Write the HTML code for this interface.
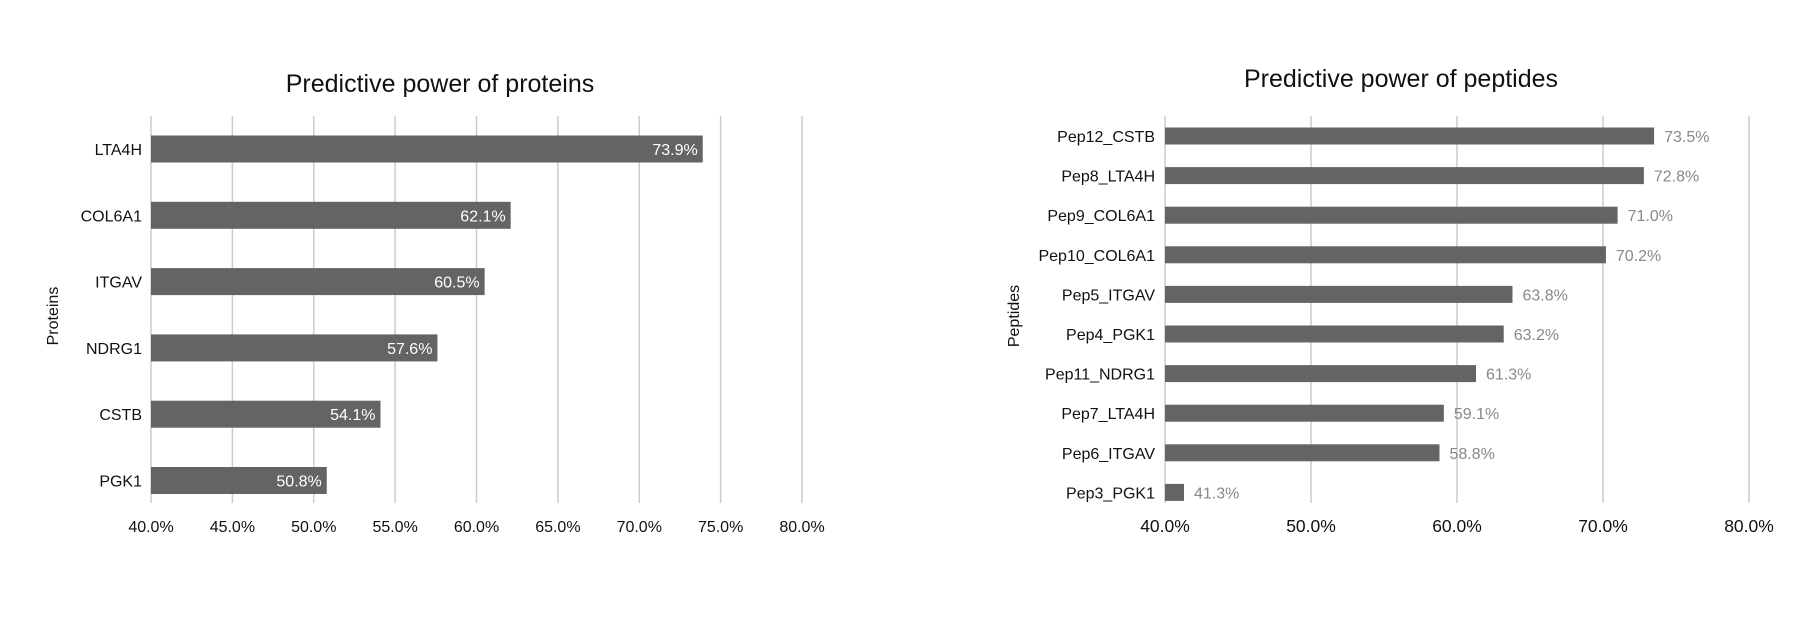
<!DOCTYPE html>
<html><head><meta charset="utf-8"><style>
body{margin:0;background:#fff;width:1815px;height:629px;overflow:hidden;font-family:"Liberation Sans",sans-serif;}
</style></head><body>
<svg id="chart" width="1815" height="629" xmlns="http://www.w3.org/2000/svg" font-family="Liberation Sans, sans-serif"></svg>
<script>
const proteinCats=["LTA4H","COL6A1","ITGAV","NDRG1","CSTB","PGK1"];
const proteinVals=[73.9,62.1,60.5,57.6,54.1,50.8];
const proteinTicks=[40,45,50,55,60,65,70,75,80];
const peptideCats=["Pep12_CSTB","Pep8_LTA4H","Pep9_COL6A1","Pep10_COL6A1","Pep5_ITGAV","Pep4_PGK1","Pep11_NDRG1","Pep7_LTA4H","Pep6_ITGAV","Pep3_PGK1"];
const peptideVals=[73.5,72.8,71.0,70.2,63.8,63.2,61.3,59.1,58.8,41.3];
const peptideTicks=[40,50,60,70,80];
const svg=document.getElementById('chart');
const NS="http://www.w3.org/2000/svg";
function mk(tag,attrs,text){const e=document.createElementNS(NS,tag);for(const k in attrs)e.setAttribute(k,attrs[k]);if(text!==undefined)e.textContent=text;svg.appendChild(e);return e;}
function draw(o){
  const x=v=>o.x0+(v-40)/40*(o.x1-o.x0);
  const y=i=>o.yFirst+i*o.step;
  let t=mk('text',{x:o.tx,y:o.ty,'font-size':25,'text-anchor':'middle',fill:'#111'},o.title);
  
  
  o.ticks.forEach(v=>{
    let g=mk('line',{x1:x(v),x2:x(v),y1:116,y2:503,stroke:'#ccc','stroke-width':1.5});
    
    
    let l=mk('text',{x:x(v),y:532,'font-size':o.tickFs,'text-anchor':'middle',fill:'#111'},v.toFixed(1)+'%');
    
    
  });
  o.cats.forEach((c,i)=>{
    const v=o.vals[i],yc=y(i);
    let b=mk('rect',{x:x(40),y:yc-o.bh/2,width:x(v)-x(40),height:o.bh,fill:'#646464'});
    
    
    let l=mk('text',{x:x(40)-o.gap,y:yc+6,'font-size':o.catFs,'text-anchor':'end',fill:'#111'},c);
    
    
    let vl;
    if(o.inside) vl=mk('text',{x:x(v)-5,y:yc+6,'font-size':16,'text-anchor':'end',fill:'#fff'},v.toFixed(1)+'%');
    else vl=mk('text',{x:x(v)+10,y:yc+6,'font-size':16,'text-anchor':'start',fill:'#888'},v.toFixed(1)+'%');
    
    
  });
  let ax=mk('text',{x:o.ax,y:316,'font-size':16,'text-anchor':'middle',fill:'#111',transform:`rotate(-90 ${o.ax} 316)`},o.axTitle);
  
  
}
draw({key:'proteins',title:'Predictive power of proteins',tx:440,ty:92,x0:151,x1:802,yFirst:149,step:66.3,bh:27,cats:proteinCats,vals:proteinVals,ticks:proteinTicks,tickFs:16,catFs:16,gap:9,inside:true,ax:58,axTitle:'Proteins'});
draw({key:'peptides',title:'Predictive power of peptides',tx:1401,ty:87,x0:1165,x1:1749,yFirst:136,step:39.6,bh:17,cats:peptideCats,vals:peptideVals,ticks:peptideTicks,tickFs:17.5,catFs:16,gap:10,inside:false,ax:1019,axTitle:'Peptides'});
</script>
</body></html>
